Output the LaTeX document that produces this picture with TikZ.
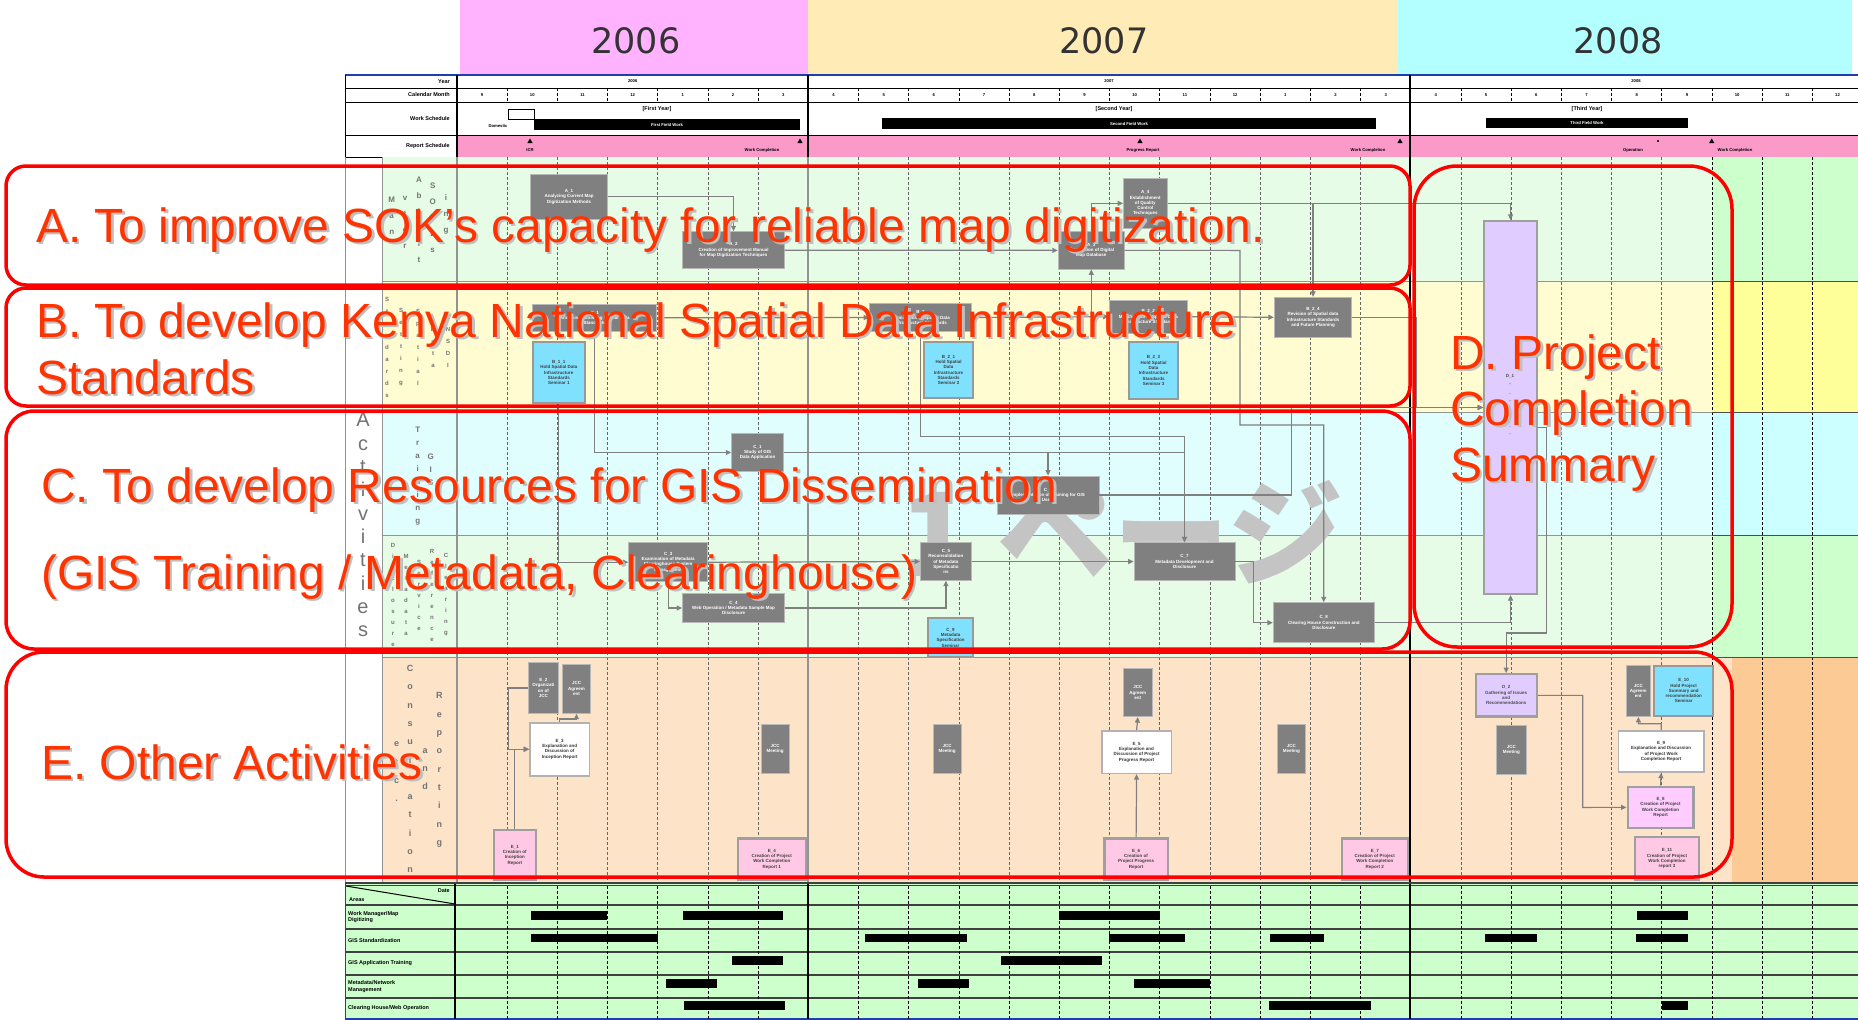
\documentclass[tikz,border=0pt]{standalone}
\usepackage{fontspec}
\setmainfont{Liberation Sans}
\newfontfamily\yearfont{DejaVu Sans}
\newfontfamily\jpfont{Noto Sans CJK JP}
\usetikzlibrary{arrows.meta,calc}
\definecolor{bgA}{HTML}{E6FCE6}
\definecolor{bgB}{HTML}{FEFCD0}
\definecolor{bgC}{HTML}{E0FEFE}
\definecolor{bgE}{HTML}{FDE4C9}
\definecolor{sA}{HTML}{CCFFCC}
\definecolor{sB}{HTML}{FFFF99}
\definecolor{sC}{HTML}{CCFFFF}
\definecolor{sE}{HTML}{FCCA95}
\definecolor{pinkrow}{HTML}{FB99C9}
\definecolor{ysix}{HTML}{FFB3FF}
\definecolor{yseven}{HTML}{FEEBB5}
\definecolor{yeight}{HTML}{B3FFFF}
\definecolor{boxgray}{HTML}{808080}
\definecolor{cyanbox}{HTML}{80E1FF}
\definecolor{pinkbox}{HTML}{FFC9E5}
\definecolor{magbox}{HTML}{FFCCFF}
\definecolor{lav}{HTML}{E0CCFF}
\definecolor{txtred}{HTML}{FF3300}
\definecolor{lnk}{HTML}{808080}
\definecolor{btgreen}{HTML}{CCFFCC}
\definecolor{tblue}{HTML}{1F3FAF}
\definecolor{wmgray}{HTML}{C4C4C4}
\newcommand\tb{\fontsize{4.5}{5.3}\selectfont\bfseries}
\newcommand\hb{\fontsize{5.5}{6.5}\selectfont\bfseries}
\newcommand\redfnt{\fontsize{48}{56}\selectfont}
\newcommand\bx[7]{%
  \pgfmathsetmacro\myw{#5-#3}\pgfmathsetmacro\myh{#6-#4}%
  \node[#1, minimum width=\myw pt, minimum height=\myh pt] (#2) at ({(#3+#5)/2},{(#4+#6)/2}) {#7};}
\newcommand\redtext[4]{%
  \node[redshadow] (#1s) at (#2+2.5,#3+2.5) {#4};
  \node[redtxt] (#1) at (#2,#3) {#4};}
\newcommand\tri[2]{\fill[black] (#1,#2-2.5) -- (#1-2.6,#2+2) -- (#1+2.6,#2+2) -- cycle;}
\begin{document}
\begin{tikzpicture}[x=1pt,y=-1pt,
  gbox/.style={draw=gray!55, line width=0.8pt, fill=boxgray, text=white, font=\tb, align=center, inner sep=0.5pt},
  cbox/.style={draw=gray!80, line width=2pt, fill=cyanbox, text=black!75, font=\tb, align=center, inner sep=0.5pt},
  pbox/.style={draw=gray!75, line width=2.4pt, fill=pinkbox, text=black!75, font=\tb, align=center, inner sep=0.5pt},
  mbox/.style={pbox, fill=magbox},
  wbox/.style={draw=gray!60, line width=1.6pt, fill=white, text=black!80, font=\tb, align=center, inner sep=0.5pt},
  lbox/.style={draw=gray!75, line width=2.2pt, fill=lav, text=black!70, font=\tb, align=center, inner sep=0.5pt},
  lk/.style={draw=lnk, line width=1.2pt, -{Triangle[length=5.5pt,width=5pt]}},
  redframe/.style={draw=red, line width=3.5pt, rounded corners=#1},
  redtxt/.style={anchor=base west, inner sep=0, text=txtred, font=\redfnt},
  redshadow/.style={anchor=base west, inner sep=0, text=gray!50, font=\redfnt},
  lbl/.style={text=gray!90!black, align=center, inner sep=0},
  htxt/.style={font=\hb, inner sep=0},
  mtxt/.style={font=\fontsize{4.2}{5}\selectfont\bfseries, inner sep=0},
  vdash/.style={dash pattern=on 3pt off 2pt},
]
\useasboundingbox (0,0) rectangle (1858,1020);
\fill[white] (0,0) rectangle (1858,1020);
% ---------- year bands
\fill[ysix] (460,0) rectangle (808,75);
\fill[yseven] (808,0) rectangle (1398,75);
\fill[yeight] (1398,0) rectangle (1852,75);
\node[font=\yearfont\fontsize{35}{40}\selectfont, text=black!80] (y2006) at (636,41) {2006};
\node[font=\yearfont\fontsize{35}{40}\selectfont, text=black!80] (y2007) at (1104,41) {2007};
\node[font=\yearfont\fontsize{35}{40}\selectfont, text=black!80] (y2008) at (1618,41) {2008};
% ---------- header table
\fill[pinkrow] (457,135) rectangle (1858,157);
\foreach \yy in {88,102,135,157} \draw[black, line width=0.7pt] (345,\yy) -- (1858,\yy);
\draw[tblue, line width=1.3pt] (345,75) -- (1858,75);
\draw[black, line width=0.8pt] (345,75) -- (345,157);
\draw[black, line width=1.6pt] (457,75) -- (457,157);
\foreach \xx in {808,1410} \draw[black, line width=1.6pt] (\xx,75) -- (\xx,157);
\foreach \k in {1,...,27} {\ifnum\k=7 \else\ifnum\k=19 \else
  \draw[black, vdash, line width=0.7pt] ({457+50.2*\k},88) -- ({457+50.2*\k},102);\fi\fi}
\node[htxt, anchor=east] (hyear) at (450,81.5) {Year};
\node[htxt, anchor=east] (hcal) at (450,95) {Calendar Month};
\node[htxt, anchor=east] (hwork) at (450,118.5) {Work Schedule};
\node[htxt, anchor=east] (hrep) at (450,146) {Report Schedule};
\node[mtxt] (t2006) at (632.7,81.5) {2006};
\node[mtxt] (t2007) at (1109,81.5) {2007};
\node[mtxt] (t2008) at (1636,81.5) {2008};
\foreach \m [count=\i from 0] in {9,10,11,12,1,2,3,4,5,6,7,8,9,10,11,12,1,2,3,4,5,6,7,8,9,10,11,12} {
  \node[mtxt] (mh\i) at ({482.1+50.2*\i},95) {\m};
  \node[mtxt] (mb\i) at ({482.1+50.2*\i},894.5) {\m};}
% work schedule
\node[htxt] (fy1) at (657,109.5) {[First Year]};
\node[htxt] (fy2) at (1114,109.5) {[Second Year]};
\node[htxt] (fy3) at (1587,109.5) {[Third Year]};
\draw[black, line width=0.8pt] (508,109) rectangle (534,119);
\node[mtxt] (dom) at (498,126) {Domestic};
\fill[black] (534,119) rectangle (800,130);
\node[mtxt, text=white] (ffw) at (667,124.5) {First Field Work};
\fill[black] (882,118) rectangle (1376,129);
\node[mtxt, text=white] (sfw) at (1129,123.5) {Second Field Work};
\fill[black] (1486,118) rectangle (1688,128);
\node[mtxt, text=white] (tfw) at (1587,123) {Third Field Work};
% report schedule
\tri{530}{141}\tri{800}{141}\tri{1140}{141}\tri{1400}{141}\tri{1711.7}{141}
\fill[black] (1658,141) circle (1.2pt);
\node[mtxt] (r1) at (530,150.5) {ICR};
\node[mtxt] (r2) at (762,150.5) {Work Completion};
\node[mtxt] (r3) at (1143,150.5) {Progress Report};
\node[mtxt] (r4) at (1368,150.5) {Work Completion};
\node[mtxt] (r5) at (1633,150.5) {Operation};
\node[mtxt] (r6) at (1735,150.5) {Work Completion};
% ---------- body
\fill[bgA] (382,157) rectangle (1712,281); \fill[sA] (1712,157) rectangle (1858,281);
\fill[bgB] (382,281) rectangle (1712,412); \fill[sB] (1712,281) rectangle (1858,412);
\fill[bgC] (382,412) rectangle (1712,535); \fill[sC] (1712,412) rectangle (1858,535);
\fill[bgA] (382,535) rectangle (1712,657); \fill[sA] (1712,535) rectangle (1858,657);
\fill[bgE] (382,657) rectangle (1732,883); \fill[sE] (1732,657) rectangle (1858,883);
\foreach \k in {1,...,27} {\ifnum\k=7 \else\ifnum\k=19 \else
  \ifnum\k>24 \draw[black, vdash, line width=0.9pt] ({457+50.2*\k},157) -- ({457+50.2*\k},883);
  \else \draw[black!60, vdash, line width=0.7pt] ({457+50.2*\k},157) -- ({457+50.2*\k},883);\fi\fi\fi}
\foreach \yy in {281,412,535,657} {\draw[gray!85, line width=1pt] (382,\yy) -- (1712,\yy);
  \draw[black!70, line width=1pt] (1712,\yy) -- (1858,\yy);}
\draw[gray!85, line width=1pt] (345,157) -- (345,883);
\draw[gray!85, line width=1pt] (382,157) -- (382,883);
\draw[gray!85, line width=2pt] (457,157) -- (457,883);
\draw[gray!85, line width=2pt] (808,157) -- (808,883);
\draw[black, line width=2pt] (1410,157) -- (1410,883);
% row label stacks
\node[lbl, font=\fontsize{20}{23.3}\selectfont] (act) at (363,525) {A\\c\\t\\i\\v\\i\\t\\i\\e\\s};
\node[lbl, font=\fontsize{8}{16}\selectfont\bfseries] (la1) at (391.7,216) {M\\a\\n};
\node[lbl, font=\fontsize{8}{16}\selectfont\bfseries] (la2) at (405,222) {v\\t\\e\\r};
\node[lbl, font=\fontsize{8}{16}\selectfont\bfseries] (la3) at (419,220) {A\\b\\i\\l\\i\\t};
\node[lbl, font=\fontsize{8}{16}\selectfont\bfseries] (la4) at (432.7,218) {S\\O\\k\\L\\s};
\node[lbl, font=\fontsize{8}{16}\selectfont\bfseries] (la5) at (446,214) {i\\n\\g};
\node[lbl, font=\fontsize{6}{12}\selectfont\bfseries] (lb1) at (387,347) {S\\t\\a\\n\\d\\a\\r\\d\\s};
\node[lbl, font=\fontsize{6}{12}\selectfont\bfseries] (lb2) at (401,347) {S\\e\\t\\t\\i\\n\\g};
\node[lbl, font=\fontsize{6}{12}\selectfont\bfseries] (lb3) at (418,347) {S\\p\\a\\t\\i\\a\\l};
\node[lbl, font=\fontsize{6}{12}\selectfont\bfseries] (lb4) at (433,347) {D\\a\\t\\a};
\node[lbl, font=\fontsize{6}{12}\selectfont\bfseries] (lb5) at (448,347) {N\\S\\D\\I};
\node[lbl, font=\fontsize{8}{13}\selectfont\bfseries] (lc1) at (417.7,476) {T\\r\\a\\i\\n\\i\\n\\g};
\node[lbl, font=\fontsize{8}{13}\selectfont\bfseries] (lc2) at (430.7,470) {G\\I\\S};
\node[lbl, font=\fontsize{6}{11}\selectfont\bfseries] (ld1) at (393,595) {D\\i\\s\\c\\l\\o\\s\\u\\r\\e};
\node[lbl, font=\fontsize{6}{11}\selectfont\bfseries] (ld2) at (406,595) {M\\e\\t\\a\\d\\a\\t\\a};
\node[lbl, font=\fontsize{6}{11}\selectfont\bfseries] (ld3) at (419,595) {S\\e\\r\\v\\i\\c\\e};
\node[lbl, font=\fontsize{6}{11}\selectfont\bfseries] (ld4) at (432,595) {R\\e\\f\\e\\r\\e\\n\\c\\e};
\node[lbl, font=\fontsize{6}{11}\selectfont\bfseries] (ld5) at (446,595) {C\\l\\e\\a\\r\\i\\n\\g};
\node[lbl, font=\fontsize{9}{18.3}\selectfont\bfseries] (le1) at (410,769) {C\\o\\n\\s\\u\\l\\t\\a\\t\\i\\o\\n};
\node[lbl, font=\fontsize{9}{18.3}\selectfont\bfseries] (le2) at (425,769) {a\\n\\d};
\node[lbl, font=\fontsize{9}{18.3}\selectfont\bfseries] (le3) at (439.3,770) {R\\e\\p\\o\\r\\t\\i\\n\\g};
\node[lbl, font=\fontsize{9}{18.3}\selectfont\bfseries] (le4) at (396.7,772) {e\\t\\c\\.};
% watermark
\node[anchor=base west, inner sep=0, text=wmgray, font=\jpfont\bfseries\fontsize{116}{120}\selectfont] (wm) at (900,576) {1 ページ};
% ---------- activity boxes
\bx{gbox}{A1}{530.7}{174.7}{607.3}{219}{A\_1\\Analyzing Current Map\\Digitization Methods}
\bx{gbox}{A2}{682.7}{231.7}{784.3}{268.7}{A\_2\\Creation of Improvement Manual\\for Map Digitization Techniques}
\bx{gbox}{A3}{1058.2}{231.7}{1124.3}{269}{A\_3\\Preparation of Digital\\Map Database}
\bx{gbox}{A4}{1123.6}{178.3}{1167.1}{228.3}{A\_4\\Establishment\\of Quality\\Control\\Techniques}
\bx{gbox}{B1}{532.7}{304}{656.7}{331.7}{B\_1\\Analysis of Existing Spatial Data\\Standards}
\bx{gbox}{B2}{869.6}{303.3}{971.4}{331.7}{B\_2\\Formulation of Spatial Data\\Infrastructure Standards}
\bx{gbox}{B22}{1109}{300}{1187.5}{333.3}{B\_2\_2\\Modification of Spatial Data\\Infrastructure Standards}
\bx{gbox}{B24}{1274.3}{297.3}{1351.8}{337.3}{B\_2\_4\\Revision of Spatial data\\Infrastructure Standards\\and Future Planning}
\bx{cbox}{B11}{532.7}{341.7}{585}{403.3}{B\_1\_1\\Hold Spatial Data\\Infrastructure\\Standards\\Seminar 1}
\bx{cbox}{B21}{924}{341.7}{973}{398.3}{B\_2\_1\\Hold Spatial\\Data\\Infrastructure\\Standards\\Seminar 2}
\bx{cbox}{B23}{1129}{341.7}{1178}{399.3}{B\_2\_3\\Hold Spatial\\Data\\Infrastructure\\Standards\\Seminar 3}
\bx{gbox}{C1}{731.7}{433.3}{783.3}{471.7}{C\_1\\Study of GIS\\Data Application}
\bx{gbox}{C3}{628.7}{542.7}{707.7}{581.7}{C\_3\\Examination of Metadata\\Clearinghouse System\\Management}
\bx{gbox}{C4}{682.7}{593.3}{784.3}{622.7}{C\_4\\Web Operation / Metadata Sample Map\\Disclosure}
\bx{gbox}{C5}{920.4}{542.7}{971.4}{580.3}{C\_5\\Reconsolidation\\of Metadata\\Specificatio\\ns}
\bx{gbox}{C6}{997}{476}{1099}{514}{C\_6\\Implementation of Training for GIS\\Users}
\bx{gbox}{C7}{1134}{542.7}{1235}{580.3}{C\_7\\Metadata Development and\\Disclosure}
\bx{gbox}{C8}{1273.2}{602.7}{1374.3}{642.7}{C\_8\\Clearing House Construction and\\Disclosure}
\bx{cbox}{C9}{927.9}{618.3}{973.2}{656.7}{C\_9\\Metadata\\Specification\\Seminar}
\bx{lbox}{D1}{1484.3}{221}{1536.7}{594}{}
\node[font=\tb, text=black!70, align=center, inner sep=0] (D1t) at (1510,405) {D\_1\\[3pt]-\\[3pt].\\[3pt]-\\[3pt].\\[3pt]-\\[3pt].\\[3pt]-};
\bx{lbox}{D2}{1475.7}{674.2}{1536.7}{716.5}{D\_2\\Gathering of Issues\\and\\Recommendations}
\bx{gbox}{E2}{528.3}{662.7}{558.3}{713.3}{E\_2\\Organizati\\on of\\JCC}
\bx{gbox}{JA1}{562.3}{664}{590.7}{713.3}{JCC\\Agreem\\ent}
\bx{wbox}{E3}{530}{722.7}{589.3}{775.7}{E\_3\\Explanation and\\Discussion of\\Inception Report}
\bx{pbox}{E1}{494}{830}{535.7}{880}{E\_1\\Creation of\\Inception\\Report}
\bx{gbox}{JM1}{761}{724}{789.3}{773.3}{JCC\\Meeting}
\bx{pbox}{E4}{737.7}{838.3}{806}{880}{E\_4\\Creation of Project\\Work Completion\\Report 1}
\bx{gbox}{JM2}{932.9}{724}{961.4}{773.3}{JCC\\Meeting}
\bx{gbox}{JA2}{1123.6}{668.3}{1152.1}{716.7}{JCC\\Agreem\\ent}
\bx{wbox}{E5}{1101.8}{730.7}{1171.4}{773.3}{E\_5\\Explanation and\\Discussion of Project\\Progress Report}
\bx{pbox}{E6}{1104.3}{838.3}{1167.9}{880}{E\_6\\Creation of\\Project Progress\\Report}
\bx{gbox}{JM3}{1277.1}{724}{1305.7}{773.3}{JCC\\Meeting}
\bx{pbox}{E7}{1341.8}{838.3}{1407.9}{880}{E\_7\\Creation of Project\\Work Completion\\Report 2}
\bx{gbox}{JM4}{1496.7}{725.6}{1526}{773.9}{JCC\\Meeting}
\bx{gbox}{JA3}{1626}{665}{1650.7}{716.5}{JCC\\Agreem\\ent}
\bx{cbox}{E10}{1654}{666}{1713.3}{715.6}{E\_10\\Hold Project\\Summary and\\recommendation\\Seminar}
\bx{wbox}{E9}{1618.3}{730.7}{1704}{772}{E\_9\\Explanation and Discussion\\of Project Work\\Completion Report}
\bx{mbox}{E8}{1627.7}{786.7}{1693.3}{828}{E\_8\\Creation of Project\\Work Completion\\Report}
\bx{pbox}{E11}{1635}{837.2}{1699}{880}{E\_11\\Creation of Project\\Work Completion\\report 3}
% ---------- connectors
\draw[lk] (A1.east) -| (A2.north);
\draw[lk] (A2.east) -- (A3.west);
\draw[lk] (A3.north) |- (A4.west);
\draw[lk] (A4.east) -| (D1.north);
\draw[lk] (A4.east) -| (B24.north);
\draw[lk] (A3.east) -- (1240,250.4) -- (1240,425) -| (C8.north);
\draw[lk] (B1.east) -- (B2.west);
\draw[lk] (B2.east) -- (B22.west);
\draw[lk] (A3.south |- B2.east) -- (A3.south);
\draw[lk] (B22.east) -- (B24.west);
\draw[lk] (B24.east) -- (1416,317.3) |- (D1.west);
\draw[lk] (B1.south) |- (C1.west);
\draw[lk] (B11.south) |- (C3.west);
\draw[lk] (B2.south) |- (1184.5,436.7) -- (C7.north);
\draw[lk] (C1.east) -| (C6.north);
\draw[lk] (C1.east) -| (C7.north);
\draw[lk] (C3.south) |- (C4.west);
\draw[lk] (C3.east) -- (C5.west);
\draw[lk] (C4.east) -| (C5.south);
\draw[lk] (C5.east) -- (C7.west);
\draw[lk] (C7.east) -- (1253.6,561.5) |- (C8.west);
\draw[lk] (C8.east) -| (D1.south);
\draw[lk] (C6.east) -| (1291.8,407.5) -- (D1.west);
\draw[lk] (D1.east |- 0,427.7) -- (1546.7,427.7) -- (1546.7,633) -| (D2.north);
\draw[lk] (D2.east) -| (1582.7,807.4) -- (E8.west);
\draw[lk] (E8.north) -- (E9.south);
\draw[lk] (E9.north) |- (1638.4,723.8) -- (JA3.south);
\draw[lk] (E1.north) |- (E3.west);
\draw[lk] (E2.west) -| (508.3,749.2) -- (E3.west);
\draw[lk] (E3.north) |- (576.5,719) -- (JA1.south);
\draw[lk] (E6.north) -- (E5.south);
\draw[lk] (E5.north) -- (JA2.south);
% ---------- bottom table
\fill[btgreen] (345,884) rectangle (1858,1019);
\foreach \yy in {883,885.5,905,929,952,975,998} \draw[black!75, line width=1.1pt] (345,\yy) -- (1858,\yy);
\draw[tblue, line width=1.3pt] (345,1019) -- (1858,1019);
\draw[tblue, line width=1pt] (345,884) -- (345,1019);
\draw[black, line width=1.6pt] (455,884) -- (455,1019);
\foreach \xx in {808,1410} \draw[black, line width=1.8pt] (\xx,884) -- (\xx,1019);
\foreach \k in {1,...,27} {\ifnum\k=7 \else\ifnum\k=19 \else
  \draw[black, vdash, line width=0.9pt] ({457+50.2*\k},886) -- ({457+50.2*\k},1019);\fi\fi}
\draw[black, line width=1pt] (346,886) -- (455,904);
\node[htxt, anchor=east] (bdate) at (450,890.5) {Date};
\node[htxt, anchor=west] (barea) at (349,900) {Areas};
\node[htxt, anchor=west, align=left] (bl1) at (348,917) {Work Manager/Map\\Digitizing};
\node[htxt, anchor=west] (bl2) at (348,940.5) {GIS Standardization};
\node[htxt, anchor=west] (bl3) at (348,963.5) {GIS Application Training};
\node[htxt, anchor=west, align=left] (bl4) at (348,986.5) {Metadata/Network\\Management};
\node[htxt, anchor=west] (bl5) at (348,1008.5) {Clearing House/Web Operation};
\foreach \a/\b in {530.5/606.6,682.7/782.6,1058.9/1159.6,1636.6/1688} \fill[black] (\a,910.5) rectangle (\b,919.5);
\foreach \a/\b in {530.5/657.5,865/966.8,1108.6/1184.5,1270.2/1323.6,1485.2/1536.6,1636/1687.5} \fill[black] (\a,933.5) rectangle (\b,942);
\foreach \a/\b in {731.7/783,1000.7/1102.2} \fill[black] (\a,956) rectangle (\b,965);
\foreach \a/\b in {665.7/716.6,917.8/969.2,1134/1210} \fill[black] (\a,979) rectangle (\b,988);
\foreach \a/\b in {684.2/785,1269.2/1370.6,1662/1687.5} \fill[black] (\a,1001) rectangle (\b,1010);
% ---------- red overlay frames
\draw[redframe=20] (6,166) rectangle (1410,285);
\draw[redframe=20] (6,288) rectangle (1410,406);
\draw[redframe=28] (6,411) rectangle (1410,649);
\draw[redframe=43] (1414,166) rectangle (1732,647);
\draw[redframe=38] (6,652) rectangle (1732,877);
\redtext{ta}{36}{242}{A. To improve SOK’s capacity for reliable map digitization.}
\redtext{tb}{36}{337}{B. To develop Kenya National Spatial Data Infrastructure}
\redtext{tb2}{36}{394}{Standards}
\redtext{tc}{41}{502}{C. To develop Resources for GIS Dissemination}
\redtext{tc2}{41}{589}{(GIS Training / Metadata, Clearinghouse)}
\redtext{td}{1450}{369}{D. Project}
\redtext{td2}{1450}{425}{Completion}
\redtext{td3}{1450}{481}{Summary}
\redtext{te}{41}{779}{E. Other Activities}
\end{tikzpicture}
\end{document}
